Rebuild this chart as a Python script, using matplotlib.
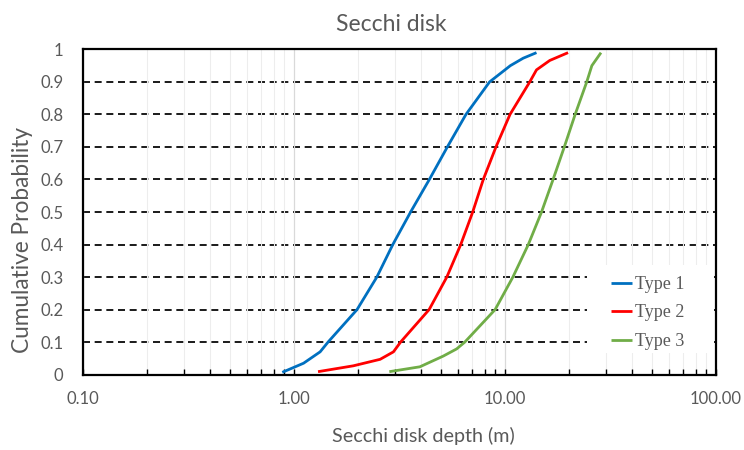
import matplotlib
matplotlib.use('Agg')
import matplotlib.pyplot as plt
from matplotlib.patches import Rectangle
from matplotlib.ticker import FixedLocator, LogLocator, NullFormatter

# cumulative probability levels and secchi depth (m) per type
p1 = [0.007, 0.035, 0.07, 0.1, 0.2, 0.3, 0.4, 0.5, 0.6, 0.7, 0.8, 0.9, 0.95, 0.973, 0.99]
d1 = [0.88, 1.11, 1.33, 1.45, 1.99, 2.47, 2.94, 3.57, 4.38, 5.33, 6.53, 8.45, 10.6, 12.2, 14.1]

p2 = [0.009, 0.027, 0.047, 0.07, 0.1, 0.2, 0.3, 0.4, 0.5, 0.6, 0.7, 0.8, 0.9, 0.937, 0.966, 0.99]
d2 = [1.30, 1.91, 2.56, 2.96, 3.20, 4.37, 5.30, 6.17, 7.03, 7.89, 9.06, 10.56, 13.1, 14.1, 16.3, 19.9]

p3 = [0.009, 0.024, 0.057, 0.079, 0.1, 0.2, 0.3, 0.4, 0.5, 0.6, 0.7, 0.8, 0.9, 0.95, 0.99]
d3 = [2.83, 3.95, 5.10, 5.90, 6.45, 8.98, 10.9, 12.9, 14.9, 16.9, 19.1, 21.5, 24.4, 25.8, 28.5]

names = ['Type 1', 'Type 2', 'Type 3']
colors = ['#0070C0', '#FF0000', '#70AD47']
yticks = [0, 0.1, 0.2, 0.3, 0.4, 0.5, 0.6, 0.7, 0.8, 0.9, 1]
ylabels = ['0', '0.1', '0.2', '0.3', '0.4', '0.5', '0.6', '0.7', '0.8', '0.9', '1']
xticks = [0.1, 1, 10, 100]

grey = '#595959'
sans = ['Lato', 'DejaVu Sans']
serif = ['Liberation Serif', 'DejaVu Serif']

fig = plt.figure(figsize=(7.44, 4.5), dpi=100)
ax = fig.add_axes([83/744, 1-374.6/450, 633/744, 325.2/450])

ax.set_xscale('log')
ax.set_xlim(0.1, 100)
ax.set_ylim(0, 1)

# light vertical grid, dashed horizontal levels
ax.xaxis.set_minor_locator(LogLocator(base=10, subs=range(2, 10)))
ax.grid(True, axis='x', which='major', color='#d9d9d9', lw=0.9)
ax.grid(True, axis='x', which='minor', color='#ededed', lw=0.8)
for lvl in yticks[1:-1]:
    ax.axhline(lvl, color='#1a1a1a', lw=1.4, ls=(0, (3.6, 2.4)), zorder=1)

for d, p, nm, c in zip([d1, d2, d3], [p1, p2, p3], names, colors):
    ax.plot(d, p, color=c, lw=2.0, label=nm, solid_capstyle='butt',
            solid_joinstyle='round', zorder=3)

ax.xaxis.set_major_locator(FixedLocator(xticks))
ax.set_xticklabels(['%.2f' % v for v in xticks])
ax.xaxis.set_minor_formatter(NullFormatter())
ax.set_yticks(yticks)
ax.set_yticklabels(ylabels)

ax.tick_params(axis='x', which='both', direction='in', length=4, width=1,
               pad=12, labelsize=12, labelcolor=grey)
ax.tick_params(axis='y', which='both', length=0, pad=14, labelsize=12,
               labelcolor=grey)
for lab in ax.get_xticklabels() + ax.get_yticklabels():
    lab.set_family(sans)

for s in ax.spines.values():
    s.set_linewidth(1.6)
    s.set_color('black')

ax.set_title('Secchi disk', fontsize=16.5, color=grey, family=sans,
             x=0.487, y=1.0, pad=13)
ax.set_xlabel('Secchi disk depth (m)', fontsize=14.2, color=grey, family=sans)
ax.xaxis.set_label_coords(0.537, -0.16)
ax.set_ylabel('Cumulative Probability', fontsize=16.3, color=grey, family=sans)
ax.yaxis.set_label_coords(-0.079, 0.415)

# white box behind the legend
ax.add_patch(Rectangle((0.796, 0.066), 0.201, 0.271, transform=ax.transAxes,
                       facecolor='white', edgecolor='none', zorder=2))
leg = ax.legend(loc='center left', bbox_to_anchor=(0.834, 0.1895),
                prop={'family': serif, 'size': 13}, frameon=False,
                borderpad=0, handlelength=1.15, handletextpad=0.2,
                labelspacing=0.63, borderaxespad=0)
for t in leg.get_texts():
    t.set_color(grey)

fig.savefig('out.png', dpi=100)
